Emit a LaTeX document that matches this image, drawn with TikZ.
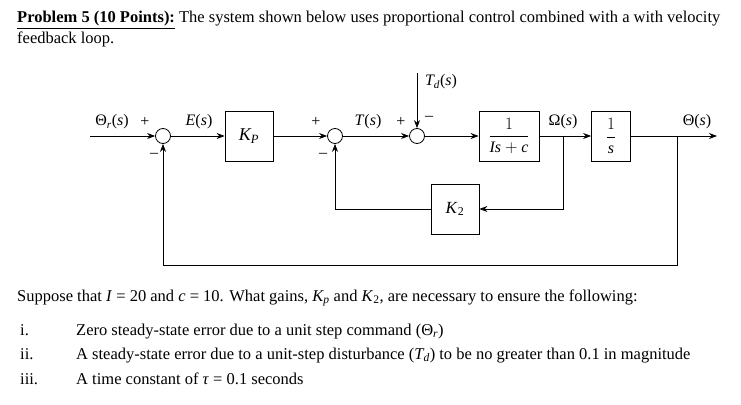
\documentclass[tikz,border=0pt]{standalone}
\usepackage{fontspec}
\setmainfont{Liberation Serif}
\usetikzlibrary{arrows.meta}
\begin{document}
\begin{tikzpicture}[x=1pt,y=-1pt,
  blk/.style={draw,line width=0.8pt,minimum width=#1,minimum height=50pt,inner sep=0pt},
  sumc/.style={draw,circle,line width=0.8pt,minimum size=15pt,inner sep=0pt},
  ar/.style={line width=0.8pt,-{Stealth[length=8pt,width=6pt]}},
  lb/.style={font=\fontsize{16}{16}\selectfont,inner sep=0pt},
  tx/.style={font=\fontsize{16.5}{18}\selectfont,inner sep=0pt,anchor=base west}]
\useasboundingbox[fill=white] (0,0) rectangle (741,404);
% text
\node[tx] (t1) at (17,23) {\textbf{\underline{Problem 5 (10 Points):}} The system shown below uses proportional control combined with a with velocity};
\node[tx] (t2) at (17,44) {feedback loop.};
\node[tx] (t3) at (17,301) {Suppose that \textit{I} = 20 and \textit{c} = 10. What gains, \textit{K\textsubscript{p}} and \textit{K}\textsubscript{2}, are necessary to ensure the following:};
\node[tx] (n1) at (20,335) {i.};
\node[tx] (n2) at (20,359) {ii.};
\node[tx] (n3) at (20,384) {iii.};
\node[tx] (i1) at (76,335) {Zero steady-state error due to a unit step command (Θ\textsubscript{\textit{r}})};
\node[tx] (i2) at (76,359) {A steady-state error due to a unit-step disturbance (\textit{T\textsubscript{d}}) to be no greater than 0.1 in magnitude};
\node[tx] (i3) at (76,384) {A time constant of \textit{τ} = 0.1 seconds};
% diagram
\coordinate (in) at (90,136);
\node[sumc] (s1) at (163,136) {};
\node[blk=48pt] (kp) at (249,136) {\fontsize{18}{18}\selectfont\textit{K\textsubscript{P}}};
\node[sumc] (s2) at (335,136) {};
\node[sumc] (s3) at (417,136) {};
\node[blk=60pt] (g) at (509,136) {\fontsize{16}{16}\selectfont$\displaystyle\frac{1}{\textit{Is} + \textit{c}}$};
\node[blk=39pt] (ig) at (611,136) {\fontsize{16}{16}\selectfont$\displaystyle\frac{1}{\textit{s}}$};
\node[blk=48pt] (k2) at (455,209) {\fontsize{17}{17}\selectfont\textit{K}\textsubscript{2}};
\coordinate (td) at (417,73);
\coordinate (om) at (563,136);
\coordinate (th) at (677,136);
\coordinate (out) at (717,136);
\draw[ar] (in) -- (s1);
\draw[ar] (s1) -- (kp);
\draw[ar] (kp) -- (s2);
\draw[ar] (s2) -- (s3);
\draw[ar] (td) -- (s3);
\draw[ar] (s3) -- (g);
\draw[ar] (g.east) -- (ig.west);
\draw[ar] (ig.east) -- (out);
\draw[ar] (om) |- (k2.east);
\draw[ar] (k2.west) -| (s2);
\draw[ar] (th) |- (163,265) -- (s1);
% labels
\node[lb] (l1) at (112,122) {Θ\textsubscript{\textit{r}}(\textit{s})};
\node[lb] (l2) at (145,122) {+};
\node[lb] (l3) at (154,155) {--};
\node[lb] (l4) at (199,122) {\textit{E}(\textit{s})};
\node[lb] (l5) at (316,122) {+};
\node[lb] (l6) at (323,155) {--};
\node[lb] (l7) at (368,122) {\textit{T}(\textit{s})};
\node[lb] (l8) at (401,122) {+};
\node[lb] (l9) at (429,118) {--};
\node[lb] (l10) at (441,82) {\textit{T\textsubscript{d}}(\textit{s})};
\node[lb] (l11) at (563,122) {Ω(\textit{s})};
\node[lb] (l12) at (697,122) {Θ(\textit{s})};
\end{tikzpicture}
\end{document}
